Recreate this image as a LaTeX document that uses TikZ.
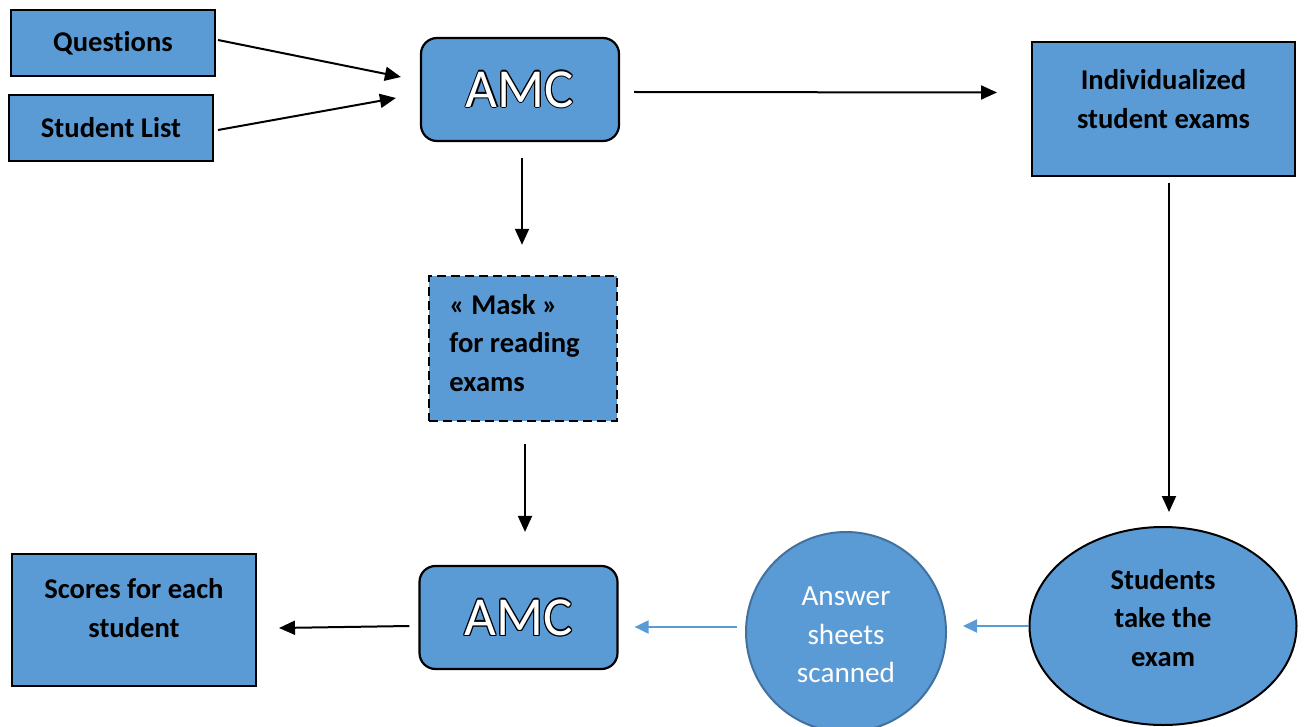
\documentclass[tikz,border=0pt]{standalone}
\usepackage{fontspec}
\setmainfont{Carlito}[RawFeature={-liga;-clig;-calt;-dlig}]
\usetikzlibrary{arrows.meta,calc,shapes.geometric}
\definecolor{boxblue}{HTML}{5B9BD5}
\definecolor{edgeblue}{HTML}{41719C}
\newdimen\olw \olw=0.6pt
\newcommand\olt[3]{%
 \setbox0\hbox{#3}%
 \leavevmode
 \rlap{\color{#1}\kern\olw\copy0}%
 \rlap{\color{#1}\kern-\olw\copy0}%
 \rlap{\color{#1}\raise\olw\copy0}%
 \rlap{\color{#1}\lower\olw\copy0}%
 \rlap{\color{#1}\kern.7\olw\raise.7\olw\copy0}%
 \rlap{\color{#1}\kern-.7\olw\raise.7\olw\copy0}%
 \rlap{\color{#1}\kern.7\olw\lower.7\olw\copy0}%
 \rlap{\color{#1}\kern-.7\olw\lower.7\olw\copy0}%
 {\color{#2}\copy0}}
\tikzset{
 bx/.style={draw=black, line width=1pt, fill=boxblue, inner sep=0pt},
 lbl/.style={font=\fontsize{14.3}{19.25}\selectfont\bfseries, text=black, align=center, inner sep=0pt},
 amcbox/.style={bx, line width=1.1pt, rounded corners=8pt, minimum width=99pt, minimum height=51.5pt, font=\fontsize{27.5}{30}\selectfont},
 arr/.style={line width=1pt, draw=black, -{Triangle[length=8pt,width=7pt]}},
 barr/.style={line width=1pt, draw=boxblue, -{Triangle[length=7pt,width=6.5pt]}}
}
\begin{document}
\begin{tikzpicture}[x=0.5pt,y=-0.5pt]
\useasboundingbox (0,0) rectangle (1306,727);
% nodes
\node[bx, minimum width=102pt, minimum height=33pt, lbl] (q) at (113,43) {Questions};
\node[bx, minimum width=102pt, minimum height=33pt, lbl] (sl) at (111,128) {Student List};
\node[amcbox] (amc1) at (520,89.5) {\olt{black}{white}{AMC}};
\node[bx, minimum width=131.5pt, minimum height=67pt] (ind) at (1163.5,109) {};
\node[lbl] (indT) at (1163.5,99) {Individualized\\student exams};
\node[bx, line width=1.2pt, dash pattern=on 4.5pt off 2.5pt, minimum width=94pt, minimum height=72.5pt] (mask) at (523,348.5) {};
\node[lbl, align=left, anchor=west] (maskT) at (449,343) {« Mask »\\for reading\\exams};
\node[amcbox] (amc2) at (518.5,617.5) {\olt{black}{white}{AMC}};
\node[bx, minimum width=122pt, minimum height=66pt] (sc) at (134,620) {};
\node[lbl] (scT) at (134,608) {Scores for each\\student};
\node[circle, draw=edgeblue, line width=1pt, fill=boxblue, minimum size=100pt, inner sep=0pt] (ans) at (846,632) {};
\node[font=\fontsize{14.6}{19.25}\selectfont, text=white, align=center, inner sep=0pt] (ansT) at (846,635) {Answer\\sheets\\scanned};
\node[ellipse, bx, minimum width=133.5pt, minimum height=99pt] (stu) at (1163,626) {};
\node[lbl] (stuT) at (1163,618) {Students\\take the\\exam};
% connectors
\draw[arr] ($(q.east)+(2,-3)$) -- ($(amc1.west)+(-19,-12.5)$);
\draw[arr] ($(sl.east)+(4,2)$) -- ($(amc1.west)+(-24,8.5)$);
\draw[arr] ($(amc1.east)+(14,2.5)$) -- ($(ind.west)+(-34,-16.5)$);
\draw[arr] ($(amc1.south)+(2,16)$) -- ($(mask.north)+(-1,-30)$);
\draw[arr] ($(mask.south)+(2,22)$) -- ($(amc2.north)+(6.5,-33)$);
\draw[arr] ($(ind.south)+(5.5,6)$) -- ($(stu.north)+(6,-14)$);
\draw[barr] (stu.west) -- ($(ans.east)+(16,-6)$);
\draw[barr] ($(ans.west)+(-8,-5)$) -- ($(amc2.east)+(16,9.5)$);
\draw[arr] ($(amc2.west)+(-9,8.5)$) -- ($(sc.east)+(22,8)$);
\end{tikzpicture}
\end{document}
